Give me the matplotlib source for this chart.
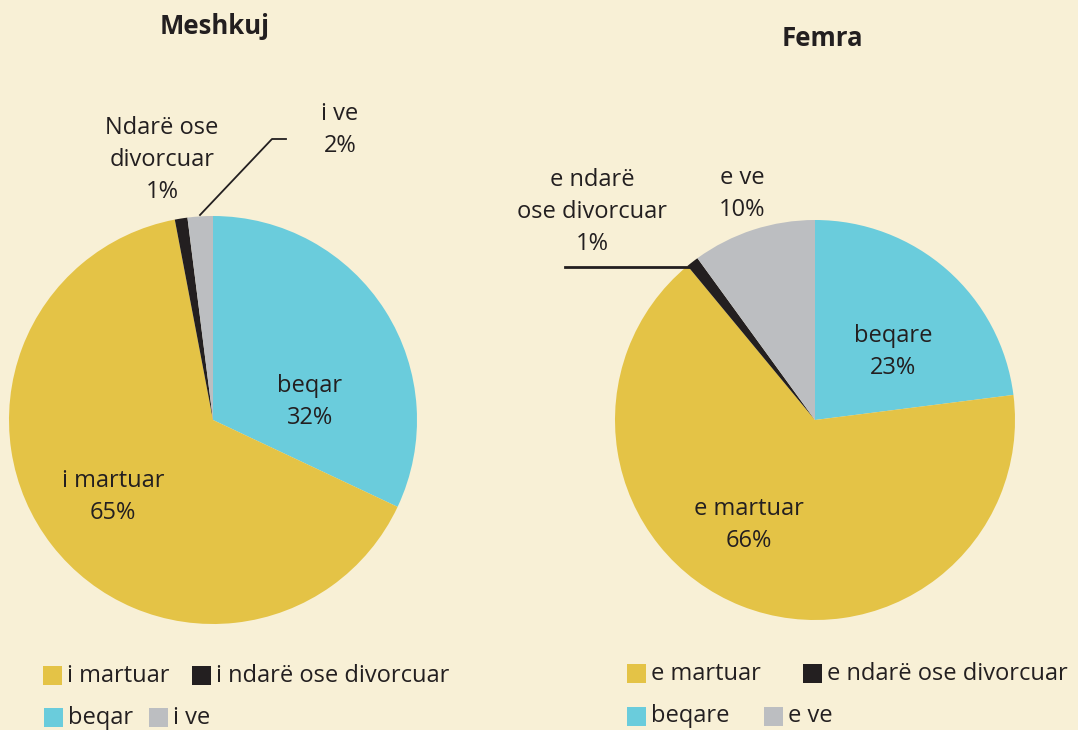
import matplotlib
matplotlib.use("Agg")
import matplotlib.pyplot as plt
from matplotlib.patches import Rectangle

# data
male_labels = ["beqar", "i martuar", "i ndarë ose divorcuar", "i ve"]
male_values = [32, 65, 1, 2]
female_labels = ["beqare", "e martuar", "e ndarë ose divorcuar", "e ve"]
female_values = [23, 66, 1, 10]
colors = ["#6ACCDC", "#E4C346", "#231F20", "#BCBEC1"]

BG = "#F8F0D6"
TXT = "#231F20"
plt.rcParams['font.family'] = ['Open Sans', 'DejaVu Sans']
FS = 17

W, H = 1078, 730
fig = plt.figure(figsize=(W / 100, H / 100), dpi=100, facecolor=BG)
ax = fig.add_axes([0, 0, 1, 1])
ax.set_facecolor(BG)

def y(py):
    # pixel row from top -> data y
    return H - py

ax.pie(male_values, colors=colors, startangle=90, counterclock=False,
       center=(213, y(420)), radius=204, frame=False)
ax.pie(female_values, colors=colors, startangle=90, counterclock=False,
       center=(815, y(420)), radius=200, frame=False)
ax.set_xlim(0, W)
ax.set_ylim(0, H)
ax.set_aspect("equal")
ax.axis("off")

# titles
ax.text(215, y(27), "Meshkuj", ha="center", va="center", fontsize=18.5, fontweight="bold", color=TXT)
ax.text(822, y(38), "Femra", ha="center", va="center", fontsize=18.5, fontweight="bold", color=TXT)

def lab(px, py, s):
    ax.text(px, y(py), s, ha="center", va="center", fontsize=FS, color=TXT, linespacing=1.45)

# male labels
lab(310, 402, f"{male_labels[0]}\n{male_values[0]}%")
lab(113, 497, f"{male_labels[1]}\n{male_values[1]}%")
lab(162, 160, f"Ndarë ose\ndivorcuar\n{male_values[2]}%")
lab(340, 130, f"{male_labels[3]}\n{male_values[3]}%")
ax.plot([200, 272, 286], [y(215), y(139), y(139)], color=TXT, lw=1.3)

# female labels
lab(893, 352, f"{female_labels[0]}\n{female_values[0]}%")
lab(749, 525, f"{female_labels[1]}\n{female_values[1]}%")
lab(592, 212, f"e ndarë\nose divorcuar\n{female_values[2]}%")
lab(742, 194, f"{female_labels[3]}\n{female_values[3]}%")
ax.plot([565, 692], [y(267), y(267)], color=TXT, lw=2)

# legends
def key(px, py, c, s, size=19):
    ax.add_patch(Rectangle((px, y(py + size)), size, size, color=c, lw=0))
    ax.text(px + size + 5, y(py + size / 2), s, ha="left", va="center", fontsize=FS, color=TXT)

key(43, 666, colors[1], male_labels[1])
key(192, 666, colors[2], male_labels[2])
key(44, 708, colors[0], male_labels[0])
key(149, 708, colors[3], male_labels[3])

key(627, 664, colors[1], female_labels[1])
key(803, 664, colors[2], female_labels[2])
key(627, 707, colors[0], female_labels[0])
key(764, 707, colors[3], female_labels[3])

fig.savefig("out.png", dpi=100, facecolor=BG)
